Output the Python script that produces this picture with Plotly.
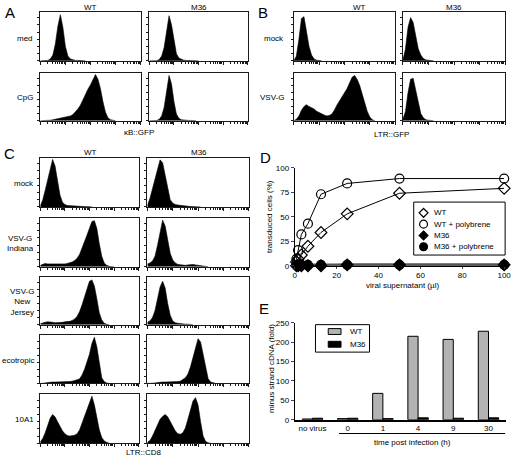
import math
import plotly.graph_objects as go

W, H = 519, 464
FONT = "Liberation Sans, Arial, sans-serif"

# ---------------- data ----------------
# histogram channels (log10 fluorescence, decades)
CH = [0.0, 0.1, 0.2, 0.3, 0.4, 0.5, 0.6, 0.7, 0.8, 0.9, 1.0, 1.1, 1.2, 1.3, 1.4, 1.5,
      1.6, 1.7, 1.8, 1.9, 2.0, 2.1, 2.2, 2.3, 2.4, 2.5, 2.6, 2.7, 2.8, 2.9, 3.0, 3.1,
      3.2, 3.3, 3.4, 3.5, 3.6, 3.7, 3.8, 3.9, 4.0]

# Panel A  (kB::GFP)
A_WT_MED = [0, 0, 0, 1, 4, 12, 35, 72, 96, 70, 30, 10, 4, 2, 1, 1, 0.5, 0.5, 0]
A_M36_MED = [0, 0, 0, 0.5, 3, 10, 28, 60, 94, 75, 40, 15, 6, 3, 1.5, 1, 1, 0.5, 0.5, 0.3, 0]
A_WT_CPG = [0, 0, 0, 0, 1, 2, 3, 4, 5, 6, 7, 8, 10, 13, 18, 25, 33, 45, 57, 67, 76, 88,
            98, 88, 68, 40, 18, 6, 2, 1, 0]
A_M36_CPG = [0, 0, 0, 0.5, 3, 10, 28, 62, 96, 78, 40, 14, 5, 2, 1, 1, 0.5, 0.5, 0.3, 0]

# Panel B  (LTR::GFP)
B_WT_MOCK = [0, 10, 45, 88, 92, 62, 30, 12, 4, 1.5, 0.5, 0]
B_M36_MOCK = [2, 25, 70, 90, 80, 50, 25, 12, 5, 2, 1, 0.5, 0]
B_WT_VSVG = [0, 3, 10, 22, 30, 34, 30, 28, 25, 20, 17, 14, 12, 10, 11, 14, 22, 33, 42, 50,
             58, 68, 80, 92, 96, 88, 75, 55, 38, 20, 8, 2, 0]
B_M36_VSVG = [3, 20, 60, 88, 90, 65, 35, 15, 6, 2, 1, 0.5, 0]

# Panel C  (LTR::CD8)
C_WT_MOCK = [2, 15, 35, 58, 82, 99, 85, 55, 25, 10, 5, 3, 2.5, 2, 1.5, 1.5, 1, 1, 1, 0.5, 0.5, 0]
C_M36_MOCK = [3, 18, 38, 60, 80, 98, 92, 65, 35, 15, 8, 5, 4, 3, 2, 2, 1.5, 1, 1, 0.5, 0.5, 0]
C_WT_IND = [3, 5, 7, 6, 6, 5, 5, 5, 6, 6, 6, 7, 8, 10, 13, 18, 26, 38, 52, 66, 80, 94, 96,
            80, 48, 22, 8, 3, 1, 0.5, 0]
C_M36_IND = [6, 8, 12, 22, 45, 75, 97, 85, 55, 28, 14, 8, 5, 4, 3, 3, 4, 5, 5, 4, 3, 2, 1, 0.5, 0]
C_WT_NJ = [2, 4, 5, 6, 6, 5, 4, 4, 5, 5, 6, 6, 7, 9, 12, 18, 28, 42, 60, 78, 92, 95, 82,
           55, 25, 10, 3, 1, 0]
C_M36_NJ = [5, 8, 15, 30, 55, 80, 92, 78, 45, 20, 8, 4, 3, 2, 1.5, 1, 1, 0.5, 0]
C_WT_ECO = [0, 0, 1, 2, 3, 3, 3, 3, 3, 3, 3, 4, 4, 5, 6, 8, 10, 18, 30, 45, 62, 85, 98,
            78, 40, 12, 4, 1, 0]
C_M36_ECO = [0, 0, 0, 1, 2, 3, 3, 3, 3, 3, 3, 4, 4, 5, 8, 12, 20, 35, 55, 75, 95, 88, 60,
             30, 10, 3, 1, 0]
C_WT_10A1 = [3, 10, 22, 38, 52, 60, 55, 45, 35, 26, 20, 16, 15, 16, 17, 20, 28, 42, 56, 68,
             82, 98, 80, 52, 28, 12, 5, 2, 0]
C_M36_10A1 = [2, 6, 15, 28, 40, 50, 56, 60, 55, 45, 35, 26, 20, 19, 22, 32, 50, 72, 88, 95,
              80, 45, 15, 4, 1, 0]

# Panel D
VOLUME = [0.78, 1.56, 3.125, 6.25, 12.5, 25, 50, 100]
D_WT = [4, 7, 11, 20, 34, 53, 74, 79]
D_WT_POLY = [7, 16, 32, 43, 73, 84, 89, 89]
D_M36 = [0, 0, 0, 0, 0, 1, 1, 1]
D_M36_POLY = [1, 1, 1, 1, 1, 1, 1, 1]
D_NAMES = ["WT", "WT + polybrene", "M36", "M36 + polybrene"]

# Panel E
E_CATS = ["no virus", "0", "1", "4", "9", "30"]
E_WT = [2, 3, 68, 215, 207, 228]
E_M36 = [4, 4, 3, 5, 4, 5]
E_NAMES = ["WT", "M36"]

# ---------------- helpers ----------------
fig = go.Figure()
axes = {}
count = [0]


def px_x(p):
    return p / W


def px_y(p):
    return 1 - p / H


def new_axes(x0, x1, y0, y1):
    count[0] += 1
    n = count[0]
    sx = "" if n == 1 else str(n)
    return sx, [px_x(x0), px_x(x1)], [px_y(y1), px_y(y0)]


MAJOR = [0, 1, 2, 3, 4]
MINOR = [d + math.log10(k) for d in range(4) for k in range(2, 10)]
LC = "#1a1a1a"


def add_hist(vals, xb, yb):
    sx, xd, yd = new_axes(xb[0], xb[1], yb[0], yb[1])
    fig.add_trace(go.Scatter(x=CH[:len(vals)], y=vals, mode="lines",
                             line=dict(color="black", width=0.6),
                             fill="tozeroy", fillcolor="black",
                             showlegend=False, hoverinfo="skip",
                             xaxis="x" + sx, yaxis="y" + sx))
    axes["xaxis" + sx] = dict(domain=xd, range=[0, 4], anchor="y" + sx,
                              showline=True, mirror=True, linecolor=LC, linewidth=1,
                              ticks="outside", ticklen=3, tickwidth=1, tickcolor=LC,
                              tickvals=MAJOR, showticklabels=False,
                              showgrid=False, zeroline=False,
                              minor=dict(tickvals=MINOR, ticks="outside", ticklen=2,
                                         tickcolor=LC, tickwidth=1, showgrid=False))
    axes["yaxis" + sx] = dict(domain=yd, range=[0, 102], anchor="x" + sx,
                              showline=True, mirror=True, linecolor=LC, linewidth=1,
                              ticks="outside", ticklen=2, tickcolor=LC, dtick=15,
                              showticklabels=False, showgrid=False, zeroline=False)


# Panel A
A_COLS = [(39, 141), (150, 250)]
A_ROWS = [(8, 58), (70, 119)]
add_hist(A_WT_MED, A_COLS[0], A_ROWS[0])
add_hist(A_M36_MED, A_COLS[1], A_ROWS[0])
add_hist(A_WT_CPG, A_COLS[0], A_ROWS[1])
add_hist(A_M36_CPG, A_COLS[1], A_ROWS[1])

# Panel B
B_COLS = [(297, 400), (408, 512)]
add_hist(B_WT_MOCK, B_COLS[0], A_ROWS[0])
add_hist(B_M36_MOCK, B_COLS[1], A_ROWS[0])
add_hist(B_WT_VSVG, B_COLS[0], A_ROWS[1])
add_hist(B_M36_VSVG, B_COLS[1], A_ROWS[1])

# Panel C
C_COLS = [(39, 139), (148, 251)]
C_ROWS = [(157, 207), (218, 268), (278, 327), (338, 387), (398, 448)]
C_DATA = [(C_WT_MOCK, C_M36_MOCK), (C_WT_IND, C_M36_IND), (C_WT_NJ, C_M36_NJ),
          (C_WT_ECO, C_M36_ECO), (C_WT_10A1, C_M36_10A1)]
for (wt, m36), row in zip(C_DATA, C_ROWS):
    add_hist(wt, C_COLS[0], row)
    add_hist(m36, C_COLS[1], row)

TICKFONT = dict(family=FONT, size=8, color="#000000")

# Panel D
sxD, xdD, ydD = new_axes(298, 511, 167, 267)
D_STYLE = [("diamond-open", "black", 1), ("circle-open", "black", 1),
           ("diamond", "#555555", 2.5), ("circle", "#555555", 2.5)]
D_VALUES = [D_WT, D_WT_POLY, D_M36, D_M36_POLY]
for ys, (sym, lc, lw) in zip(D_VALUES, D_STYLE):
    fig.add_trace(go.Scatter(x=VOLUME, y=ys, mode="lines", line=dict(color=lc, width=lw),
                             showlegend=False, hoverinfo="skip", cliponaxis=False,
                             xaxis="x" + sxD, yaxis="y" + sxD))
for name, ys, (sym, lc, lw) in zip(D_NAMES, D_VALUES, D_STYLE):
    fig.add_trace(go.Scatter(x=VOLUME, y=ys, mode="markers", name=name, showlegend=False,
                             marker=dict(symbol=sym, size=9, color="black",
                                         line=dict(color="black", width=1.2)),
                             cliponaxis=False,
                             xaxis="x" + sxD, yaxis="y" + sxD))
axes["xaxis" + sxD] = dict(domain=xdD, range=[0, 100], anchor="y" + sxD, dtick=20,
                           showline=True, linecolor="black", linewidth=1,
                           ticks="outside", ticklen=2, tickfont=TICKFONT,
                           showgrid=False, zeroline=False)
axes["yaxis" + sxD] = dict(domain=ydD, range=[0, 100], anchor="x" + sxD, dtick=25,
                           showline=True, linecolor="black", linewidth=1,
                           ticks="outside", ticklen=3, tickfont=TICKFONT,
                           showgrid=False, zeroline=False)

# Panel E
sxE, xdE, ydE = new_axes(298, 513, 325, 424)
E_COLORS = ["#b3b3b3", "black"]
for name, ys, col in zip(E_NAMES, [E_WT, E_M36], E_COLORS):
    fig.add_trace(go.Bar(x=E_CATS, y=ys, name=name, showlegend=False,
                         marker=dict(color=col, line=dict(color="black", width=1)),
                         xaxis="x" + sxE, yaxis="y" + sxE))
axes["xaxis" + sxE] = dict(domain=xdE, anchor="y" + sxE, type="category",
                           showline=True, linecolor="black", linewidth=1.5,
                           ticks="", tickfont=TICKFONT, showgrid=False, zeroline=False)
axes["yaxis" + sxE] = dict(domain=ydE, range=[0, 250], anchor="x" + sxE, dtick=50,
                           showline=True, linecolor="black", linewidth=1,
                           ticks="outside", ticklen=3, tickfont=TICKFONT,
                           showgrid=False, zeroline=False)

# ---------------- annotations ----------------
ann = []


def text(t, x, y, size=8, xanchor="center", align="center", angle=0):
    ann.append(dict(text=t, x=px_x(x), y=px_y(y), xref="paper", yref="paper",
                    showarrow=False, xanchor=xanchor, yanchor="middle", align=align,
                    textangle=angle,
                    font=dict(family=FONT, size=size, color="#000000")))


for letter, x, y in [("A", 8, 9), ("B", 266, 9), ("C", 8, 152), ("D", 268, 157), ("E", 267, 311)]:
    text(letter, x, y, size=15)

text("WT", 90, 4)
text("M36", 200, 4)
text("WT", 364, 4)
text("M36", 460, 4)
text("WT", 90, 151)
text("M36", 200, 151)

text("med", 34, 35, xanchor="right")
text("CpG", 34, 95, xanchor="right")
text("mock", 289, 35, xanchor="right")
text("VSV-G", 289, 95, xanchor="right")

C_LABELS = ["mock", "VSV-G<br>Indiana", "VSV-G<br>New<br>Jersey", "ecotropic", "10A1"]
for lab, row in zip(C_LABELS, C_ROWS):
    text(lab, 35, (row[0] + row[1]) / 2 + 1, xanchor="right", align="center")

text("κB::GFP", 139, 131)
text("LTR::GFP", 396, 133)
text("LTR::CD8", 145, 457)
text("viral supernatant (µl)", 408, 287)
text("transduced cells (%)", 273, 217, angle=-90)
text("minus strand cDNA (fold)", 275, 372, angle=-90)
text("time post infection (h)", 418, 447)

shapes = [dict(type="line", xref="paper", yref="paper", x0=px_x(343), x1=px_x(512),
               y0=px_y(438), y1=px_y(438), line=dict(color="black", width=1))]


def rect(x0, y0, x1, y1, fill="white", lw=1):
    shapes.append(dict(type="rect", xref="paper", yref="paper",
                       x0=px_x(x0), x1=px_x(x1), y0=px_y(y1), y1=px_y(y0),
                       fillcolor=fill, line=dict(color="black", width=lw)))


# legend of panel D (drawn as a box with symbols)
rect(419, 202, 512, 256)
D_LEG_Y = [213, 224.5, 236, 247.5]
for name, (sym, lc, lw), yy in zip(D_NAMES, D_STYLE, D_LEG_Y):
    cx, r = 429, 4
    fill = "black" if not sym.endswith("open") else "white"
    if sym.startswith("circle"):
        shapes.append(dict(type="circle", xref="paper", yref="paper",
                           x0=px_x(cx - r), x1=px_x(cx + r), y0=px_y(yy + r), y1=px_y(yy - r),
                           fillcolor=fill, line=dict(color="black", width=1.2)))
    else:
        r = 4.5
        path = "M {:.5f},{:.5f} L {:.5f},{:.5f} L {:.5f},{:.5f} L {:.5f},{:.5f} Z".format(
            px_x(cx), px_y(yy - r), px_x(cx + r), px_y(yy), px_x(cx), px_y(yy + r),
            px_x(cx - r), px_y(yy))
        shapes.append(dict(type="path", xref="paper", yref="paper", path=path,
                           fillcolor=fill, line=dict(color="black", width=1.2)))
    text(name, 438, yy, xanchor="left")

# legend of panel E
rect(319, 327, 374, 355)
for name, col, yy in zip(E_NAMES, E_COLORS, [334, 347]):
    rect(332, yy - 3, 345, yy + 3, fill=col)
    text(name, 352, yy, xanchor="left")

fig.update_layout(
    width=W, height=H, margin=dict(l=0, r=0, t=0, b=0),
    paper_bgcolor="white", plot_bgcolor="white",
    font=dict(family=FONT, size=8, color="#000000"),
    barmode="group", bargap=0.42, bargroupgap=0,
    annotations=ann, shapes=shapes, showlegend=False,
    **axes,
)

# remove the browser's default page margin so the figure sits at the window origin
fig.write_html("out.html",
               config={"displayModeBar": False},
               post_script="document.body.style.margin='0px';"
                           "document.documentElement.style.margin='0px';"
                           "document.body.style.overflow='hidden';")
